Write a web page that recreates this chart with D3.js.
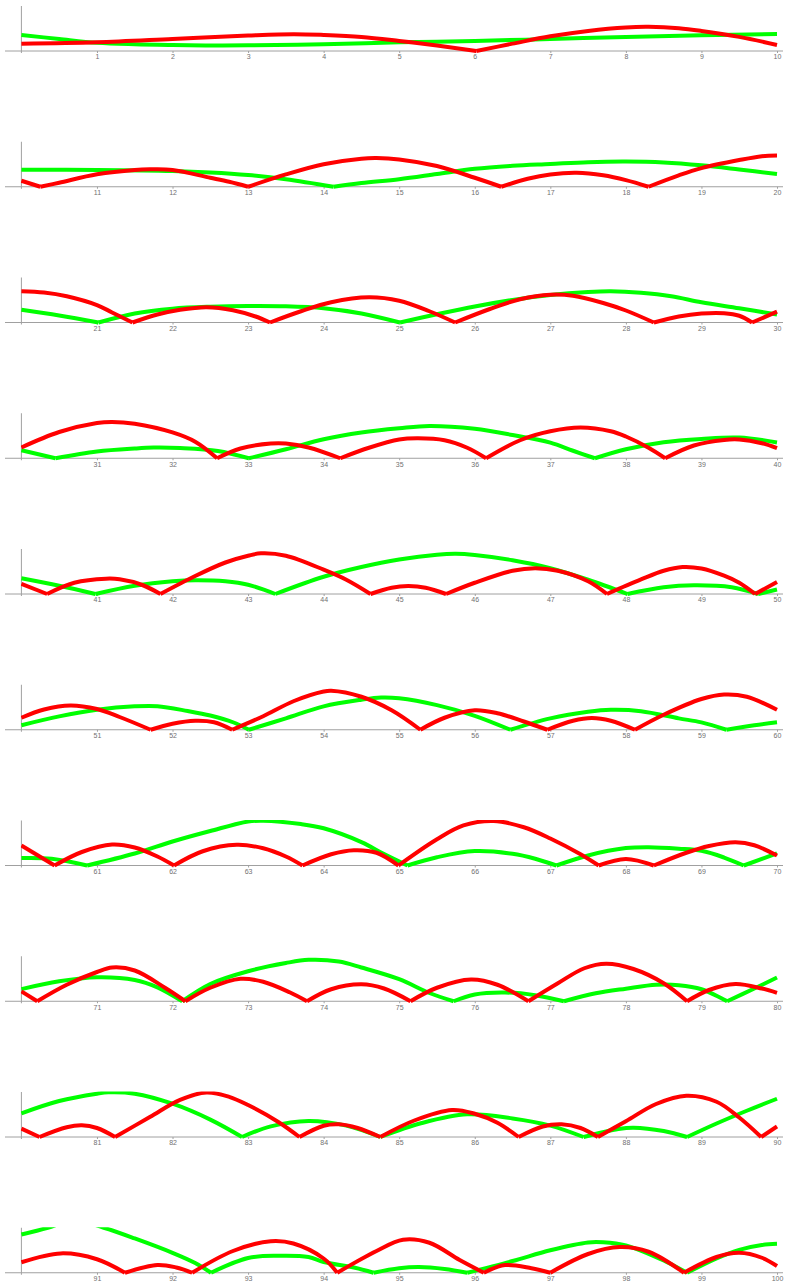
<!DOCTYPE html>
<html>
<head>
<meta charset="utf-8">
<script src="https://cdn.jsdelivr.net/npm/d3@7"></script>
<style>
  html, body { margin: 0; padding: 0; background: #ffffff; }
  svg { display: block; }
  .tick text { font-family: "Liberation Sans", Arial, sans-serif; }
</style>
</head>
<body>
<script>
// ---- data: [t, value]; value 0 marks a cusp touching the axis ----
const panelStarts = [0, 10, 20, 30, 40, 50, 60, 70, 80, 90];
const yMax = 3;

const greenData = [
  [0,1.07],[0.5,0.8],[1,0.55],[1.5,0.45],[2,0.4],[2.5,0.37],[3,0.38],[4,0.45],[5,0.58],[6,0.67],[7,0.8],[8,0.94],[9,1.05],[10,1.13],
  [11,1.12],[12,1.05],[12.5,0.95],[13,0.78],[13.5,0.5],[14.13,0],[14.5,0.25],[15,0.5],[15.5,0.85],[16,1.2],[16.5,1.4],[17,1.52],[17.5,1.64],[18,1.68],[18.5,1.62],[19,1.43],[19.5,1.15],[20,0.85],
  [20.5,0.47],[21.02,0],[21.5,0.6],[22,0.92],[22.5,1.05],[23,1.1],[23.5,1.08],[24,0.95],[24.5,0.6],[25.01,0],[25.5,0.55],[26,1.07],[26.5,1.5],[27,1.83],[27.5,2.03],[27.8,2.08],[28.2,1.98],[28.6,1.75],[29,1.35],[29.5,0.95],[30,0.53],
  [30.45,0],[31,0.45],[31.5,0.65],[31.75,0.71],[32.1,0.68],[32.6,0.49],[33.01,0],[33.5,0.6],[34,1.27],[34.5,1.72],[35,2.0],[35.4,2.15],[36,1.96],[36.5,1.55],[37,1.04],[37.3,0.5],[37.59,0],[38,0.6],[38.5,1.07],[39,1.29],[39.5,1.38],[40,1.05],
  [40.5,0.55],[40.98,0],[41.5,0.55],[42,0.85],[42.3,0.92],[42.7,0.85],[43,0.62],[43.36,0],[44,1.15],[44.5,1.8],[45,2.3],[45.5,2.62],[45.75,2.68],[46,2.6],[46.5,2.25],[47,1.72],[47.5,0.95],[48.02,0],[48.5,0.45],[48.9,0.58],[49.4,0.45],[49.75,0],[50,0.3],
  [50.5,0.89],[51,1.33],[51.5,1.56],[51.8,1.57],[52.2,1.25],[52.5,0.95],[52.8,0.5],[53.01,0],[53.5,0.76],[54,1.56],[54.5,2.0],[54.76,2.15],[55,2.1],[55.5,1.64],[56,0.93],[56.47,0],[57,0.76],[57.5,1.2],[57.8,1.33],[58.2,1.24],[58.7,0.76],[59,0.49],[59.33,0],[59.7,0.3],[60,0.5],
  [60.4,0.45],[60.87,0],[61.5,0.8],[62,1.6],[62.5,2.3],[63,2.93],[63.2,2.98],[63.7,2.76],[64,2.48],[64.5,1.56],[64.8,0.76],[65.11,0],[65.5,0.55],[66,0.96],[66.5,0.78],[66.8,0.45],[67.08,0],[67.5,0.67],[68,1.16],[68.3,1.22],[68.7,1.12],[69,0.98],[69.3,0.53],[69.56,0],[70,0.81],
  [70.5,1.33],[71,1.6],[71.5,1.42],[71.8,0.93],[72.13,0],[72.5,1.15],[73,2.0],[73.5,2.55],[73.8,2.76],[74.2,2.65],[74.5,2.25],[75,1.47],[75.4,0.55],[75.72,0],[76,0.45],[76.4,0.58],[76.8,0.4],[77.18,0],[77.6,0.53],[78,0.84],[78.4,1.1],[78.7,1.07],[79,0.8],[79.34,0],[79.7,0.85],[80,1.58],
  [80.5,2.4],[81,2.89],[81.15,2.98],[81.5,2.89],[82,2.22],[82.5,1.16],[82.92,0],[83.3,0.71],[83.8,1.07],[84.3,0.76],[84.75,0],[85.3,0.93],[85.9,1.51],[86.5,1.24],[87,0.76],[87.44,0],[87.9,0.53],[88.1,0.62],[88.5,0.4],[88.81,0],[89.2,0.9],[89.6,1.75],[90,2.55],
  [90.35,3.0],[90.7,3.5],[91.09,3.0],[91.5,2.29],[92,1.33],[92.3,0.65],[92.51,0],[93,0.98],[93.4,1.13],[93.8,1.05],[94,0.72],[94.4,0.35],[94.66,0],[95,0.3],[95.26,0.38],[95.6,0.25],[95.9,0],[96.5,0.78],[97,1.5],[97.5,2.02],[97.7,2.03],[98,1.82],[98.5,0.82],[98.81,0],[99.2,0.96],[99.5,1.53],[99.8,1.85],[100,1.93]
];

const redData = [
  [0,0.49],[1,0.58],[2,0.8],[3,1.03],[3.6,1.12],[4,1.07],[4.5,0.94],[5,0.67],[5.5,0.36],[6.02,0],[6.5,0.49],[7,0.98],[7.5,1.34],[8,1.57],[8.3,1.61],[8.7,1.52],[9,1.34],[9.5,0.94],[10,0.4],
  [10.25,0],[10.5,0.27],[11,0.83],[11.5,1.12],[11.7,1.16],[12,1.12],[12.5,0.6],[12.75,0.33],[13,0],[13.5,0.82],[14,1.5],[14.5,1.87],[14.7,1.91],[15,1.82],[15.5,1.38],[16,0.6],[16.35,0],[16.7,0.53],[17,0.82],[17.35,0.93],[17.7,0.76],[18,0.44],[18.3,0],[18.7,0.76],[19,1.24],[19.5,1.78],[19.8,2.04],[20,2.09],
  [20.3,2.0],[20.6,1.75],[21,1.16],[21.2,0.67],[21.47,0],[21.8,0.53],[22.1,0.85],[22.45,1.02],[22.8,0.82],[23.1,0.4],[23.29,0],[23.7,0.75],[24.1,1.35],[24.6,1.68],[25,1.45],[25.4,0.75],[25.74,0],[26.2,0.9],[26.6,1.55],[27,1.85],[27.3,1.78],[27.7,1.3],[28,0.8],[28.37,0],[28.7,0.4],[29,0.6],[29.3,0.62],[29.5,0.45],[29.67,0],[30,0.72],
  [30.5,1.75],[31,2.35],[31.2,2.42],[31.5,2.3],[32,1.72],[32.3,1.1],[32.59,0],[32.9,0.65],[33.3,0.98],[33.5,0.98],[33.8,0.72],[34.22,0],[34.6,0.7],[35,1.25],[35.25,1.33],[35.6,1.2],[35.9,0.7],[36.15,0],[36.6,1.2],[37,1.8],[37.4,2.05],[37.8,1.8],[38,1.45],[38.3,0.7],[38.52,0],[38.9,0.85],[39.3,1.22],[39.5,1.25],[39.8,1.0],[40,0.67],
  [40.34,0],[40.7,0.75],[41.12,1.02],[41.3,0.98],[41.6,0.6],[41.84,0],[42.3,1.2],[42.7,2.1],[43,2.55],[43.17,2.71],[43.5,2.55],[44,1.62],[44.3,0.95],[44.62,0],[44.9,0.42],[45.12,0.53],[45.35,0.42],[45.62,0],[46,0.75],[46.5,1.55],[46.8,1.72],[47.1,1.55],[47.5,0.85],[47.75,0],[48.2,0.97],[48.5,1.55],[48.75,1.8],[49,1.7],[49.3,1.22],[49.5,0.75],[49.71,0],[50,0.8],
  [50.3,1.35],[50.65,1.62],[51,1.38],[51.3,0.85],[51.71,0],[52,0.4],[52.3,0.6],[52.55,0.5],[52.79,0],[53.2,0.9],[53.6,1.9],[54,2.55],[54.1,2.6],[54.5,2.2],[54.9,1.3],[55.28,0],[55.6,0.8],[56,1.3],[56.3,1.1],[56.65,0.55],[56.96,0],[57.3,0.6],[57.55,0.78],[57.8,0.6],[58.12,0],[58.5,1.0],[59,2.05],[59.3,2.35],[59.6,2.2],[60,1.33],
  [60.44,0],[60.8,0.9],[61.2,1.4],[61.5,1.2],[61.8,0.6],[62.02,0],[62.4,0.95],[62.85,1.38],[63.2,1.15],[63.5,0.6],[63.72,0],[64.1,0.75],[64.4,1.02],[64.7,0.85],[64.99,0],[65.5,1.75],[65.85,2.67],[66.25,2.97],[66.65,2.55],[67,1.8],[67.4,0.75],[67.64,0],[68,0.44],[68.37,0],[68.8,0.85],[69.1,1.3],[69.45,1.55],[69.7,1.35],[70,0.66],
  [70.21,0],[70.6,1.1],[71,1.95],[71.2,2.25],[71.5,2.05],[71.9,0.9],[72.17,0],[72.5,0.9],[72.9,1.5],[73.2,1.3],[73.55,0.6],[73.78,0],[74.1,0.8],[74.5,1.13],[74.8,0.85],[75.15,0],[75.5,0.9],[75.95,1.45],[76.3,1.1],[76.71,0],[77.1,1.2],[77.45,2.2],[77.74,2.5],[78.1,2.15],[78.5,1.2],[78.81,0],[79.1,0.75],[79.45,1.15],[79.8,0.85],[80,0.56],
  [80.24,0],[80.6,0.65],[80.8,0.78],[81,0.6],[81.24,0],[81.7,1.33],[82.1,2.47],[82.45,2.97],[82.75,2.68],[83,2.13],[83.4,1.0],[83.68,0],[84,0.75],[84.2,0.85],[84.45,0.6],[84.75,0],[85.2,1.1],[85.7,1.8],[86,1.55],[86.3,0.95],[86.58,0],[86.9,0.7],[87.15,0.85],[87.4,0.6],[87.63,0],[88,1.05],[88.4,2.2],[88.8,2.75],[89.2,2.35],[89.5,1.3],[89.79,0],[90,0.7],
  [90.52,1.29],[91,0.9],[91.37,0],[91.8,0.52],[92.05,0.35],[92.26,0],[92.8,1.45],[93.3,2.1],[93.6,1.95],[94,0.95],[94.18,0],[94.7,1.45],[95.05,2.2],[95.4,2.0],[95.8,0.85],[96.12,0],[96.4,0.51],[96.75,0.3],[97,0],[97.5,1.25],[97.92,1.71],[98.3,1.4],[98.77,0],[99.2,1.05],[99.5,1.33],[99.8,1.0],[100,0.45]
];

const series = [
  { name: "green", data: greenData, color: "#00ff00" },
  { name: "red",   data: redData,   color: "#ff0000" }
];

// ---- layout ----
const W = 785, H = 1283;
const x0 = 21.4, x1 = 777;
const firstAxisY = 51, panelStep = 135.75, plotH = 45;

const svg = d3.select("body").append("svg")
  .attr("width", W).attr("height", H)
  .style("background", "#fff");

const defs = svg.append("defs");

function splitArches(pts) {
  const segs = [];
  let cur = [];
  pts.forEach(p => {
    cur.push(p);
    if (p[1] === 0 && cur.length > 1) { segs.push(cur); cur = [p]; }
  });
  if (cur.length > 1) segs.push(cur);
  return segs;
}

panelStarts.forEach((start, i) => {
  const axisY = firstAxisY + panelStep * i;
  const x = d3.scaleLinear().domain([start, start + 10]).range([x0, x1]);
  const y = d3.scaleLinear().domain([0, yMax]).range([axisY, axisY - plotH]);

  const g = svg.append("g");

  // horizontal axis line
  g.append("line")
    .attr("x1", 5).attr("x2", 783)
    .attr("y1", axisY).attr("y2", axisY)
    .attr("stroke", "#a0a0a0").attr("stroke-width", 1);
  // vertical axis line
  g.append("line")
    .attr("x1", x0).attr("x2", x0)
    .attr("y1", y(yMax)).attr("y2", axisY + 2)
    .attr("stroke", "#a0a0a0").attr("stroke-width", 1);

  // ticks and labels
  const tickVals = d3.range(start + 1, start + 11);
  const ax = d3.axisBottom(x).tickValues(tickVals).tickSize(2).tickPadding(1.5)
    .tickFormat(d3.format("d"));
  const axG = g.append("g").attr("transform", `translate(0,${axisY})`).call(ax);
  axG.select(".domain").remove();
  axG.selectAll(".tick line").attr("stroke", "#a0a0a0");
  axG.selectAll(".tick text").attr("fill", "#707070").style("font-size", "7px")
    .attr("opacity", 0.99);

  // clip region
  const cid = "clip" + i;
  defs.append("clipPath").attr("id", cid)
    .append("rect")
    .attr("x", x0 - 0.5).attr("y", y(yMax) - 0.5)
    .attr("width", x1 - x0 + 1.5).attr("height", plotH + 4.5);

  const line = d3.line()
    .x(d => x(d[0])).y(d => y(d[1]))
    .curve(d3.curveCatmullRom.alpha(0.5));

  const lg = g.append("g").attr("clip-path", `url(#${cid})`);
  series.forEach(s => {
    const pts = s.data.filter(d => d[0] >= start && d[0] <= start + 10);
    splitArches(pts).forEach(seg => {
      lg.append("path")
        .attr("d", line(seg))
        .attr("fill", "none")
        .attr("stroke", s.color)
        .attr("stroke-width", 4)
        .attr("stroke-linejoin", "round")
        .attr("stroke-linecap", "butt");
    });
  });
});
</script>
</body>
</html>
